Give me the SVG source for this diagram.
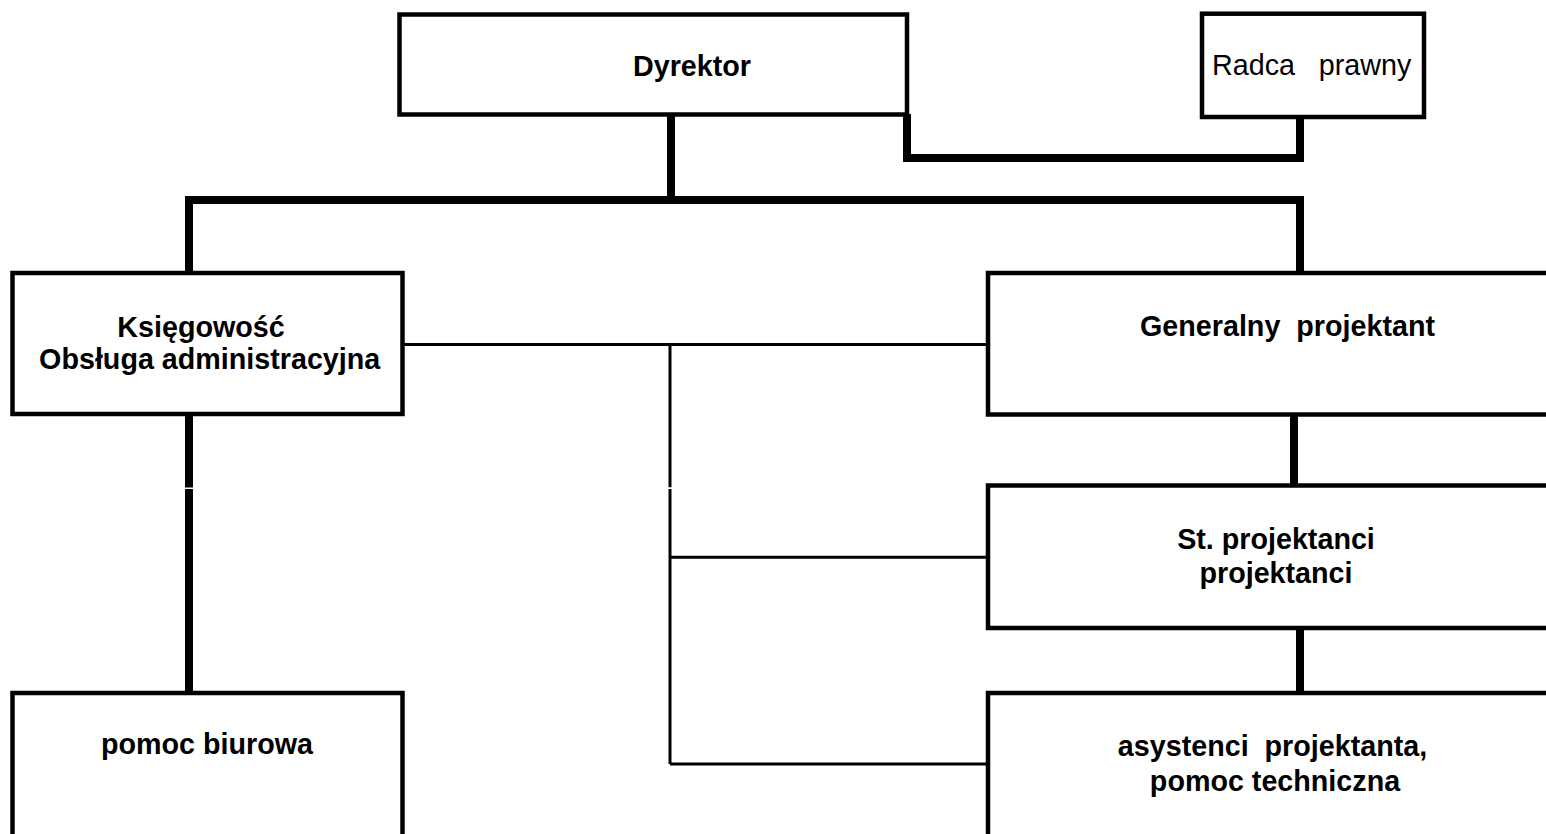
<svg xmlns="http://www.w3.org/2000/svg" width="1546" height="834" viewBox="0 0 1546 834">
<style>
.box{fill:#fff;stroke:#000;stroke-width:4.5}
.thick{fill:none;stroke:#000;stroke-width:8}
.thin{fill:none;stroke:#000;stroke-width:3}
text{font-family:"Liberation Sans",Arial,sans-serif;font-size:28.7px;fill:#000;white-space:pre}
.b{font-weight:bold}
</style>
<rect width="1546" height="834" fill="#fff"/>
<g id="connectors">
<path class="thick" d="M671,114 V200 M189,200 H1300 M189,196 V273 M1300,196 V273"/>
<path class="thick" d="M907,114 V158 H1300 V117"/>
<path class="thick" d="M189,414 V487.6 M189,489 V693"/>
<path class="thick" d="M1294,414 V486"/>
<path class="thick" d="M1300,628 V693"/>
<path class="thin" d="M402,344.5 H988 M670,344.5 V487.3 M670,489 V764 M670,557.3 H988 M670,764 H988"/>
</g>
<g id="dyrektor">
<rect class="box" x="399.5" y="14.5" width="507.5" height="100"/>
<text class="b" x="692" y="76" text-anchor="middle">Dyrektor</text>
</g>
<g id="radca">
<rect class="box" x="1202" y="13.7" width="222" height="103.3"/>
<text x="1311.7" y="75" text-anchor="middle">Radca   prawny</text>
</g>
<g id="ksiegowosc">
<rect class="box" x="12.5" y="273" width="390" height="141"/>
<text class="b" x="201" y="336.7" text-anchor="middle">Księgowość</text>
<text class="b" x="209.7" y="369.3" text-anchor="middle">Obsługa administracyjna</text>
</g>
<g id="generalny">
<rect class="box" x="988" y="273" width="600" height="141.5"/>
<text class="b" x="1287.5" y="335.7" text-anchor="middle">Generalny  projektant</text>
</g>
<g id="st-projektanci">
<rect class="box" x="988" y="485.5" width="600" height="142.5"/>
<text class="b" x="1276" y="549.3" text-anchor="middle">St. projektanci</text>
<text class="b" x="1276" y="582.7" text-anchor="middle">projektanci</text>
</g>
<g id="pomoc-biurowa">
<rect class="box" x="12.5" y="693" width="390" height="160"/>
<text class="b" x="207" y="754.3" text-anchor="middle">pomoc biurowa</text>
</g>
<g id="asystenci">
<rect class="box" x="988" y="693" width="600" height="160"/>
<text class="b" x="1272.5" y="756" text-anchor="middle">asystenci  projektanta,</text>
<text class="b" x="1275" y="791" text-anchor="middle">pomoc techniczna</text>
</g>
</svg>
